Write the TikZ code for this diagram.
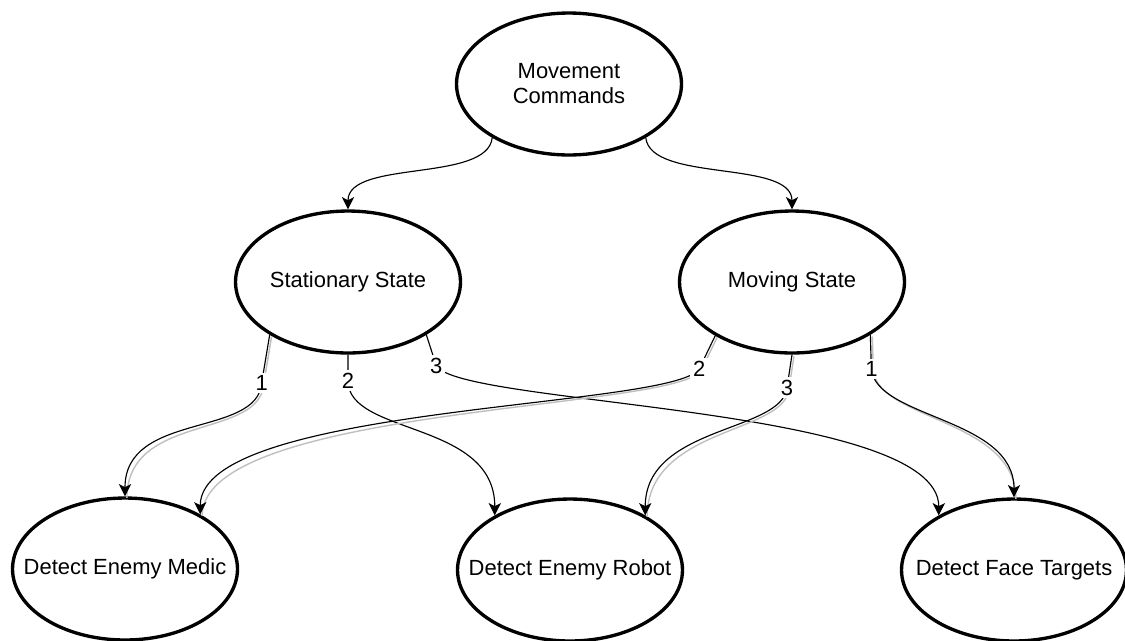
\documentclass[tikz,border=0pt]{standalone}
\usepackage{fontspec}
\setmainfont{Liberation Sans}
\usetikzlibrary{shapes.geometric,arrows.meta}

\tikzset{
  state/.style={ellipse, draw, line width=1.9pt, minimum width=4.5cm, minimum height=2.84cm,
    inner sep=-14pt, align=center, font=\fontsize{12.5}{14.2}\selectfont},
  link/.style={-{Stealth[length=7pt,width=7pt,inset=1.8pt]}, line width=0.65pt},
  shadowed/.style={preaction={draw=black!25, arrows=-, line width=0.8pt,
    transform canvas={xshift=1.1pt,yshift=-0.9pt}}},
  num/.style={fill=white, inner sep=1.5pt, font=\fontsize{12.5}{14}\selectfont},
}

\begin{document}
\begin{tikzpicture}[x=0.02cm, y=-0.02cm]
  \useasboundingbox (0,0) rectangle (1125,640);

  % States
  \node[state] (move) at (569,84) {Movement\\Commands};
  \node[state] (still) at (348,282) {Stationary State};
  \node[state] (moving) at (792,282) {Moving State};
  \node[state] (medic) at (125,569) {Detect Enemy Medic};
  \node[state] (robot) at (570,570) {Detect Enemy Robot};
  \node[state] (face) at (1014,570) {Detect Face Targets};

  % Commands
  \draw[link] (move.215) .. controls +(-5,45) and +(0,-50) .. (still.north);
  \draw[link] (move.325) .. controls +(5,45) and +(0,-50) .. (moving.north);

  % Stationary
  \draw[link, shadowed] (still.214) -- ++(-8,48) node[num] (s1) {1}
    .. controls +(-4,55) and +(0,-85) .. (medic.north);
  \draw[link] (still.south) -- ++(0,26) node[num] (s2) {2}
    .. controls +(0,55) and +(0,-95) .. (robot.144);
  \draw[link] (still.326) -- ++(10,31) node[num] (s3) {3}
    .. controls +(25,40) and +(0,-110) .. (face.144);

  % Moving
  \draw[link, shadowed] (moving.215) -- ++(-16,33) node[num] (m2) {2}
    .. controls +(-25,40) and +(0,-110) .. (medic.36);
  \draw[link, shadowed] (moving.south) -- ++(-5,33) node[num] (m3) {3}
    .. controls +(-5,45) and +(0,-90) .. (robot.36);
  \draw[link, shadowed] (moving.326) -- ++(1,34) node[num] (m1) {1}
    .. controls +(5,50) and +(0,-80) .. (face.north);
\end{tikzpicture}
\end{document}
